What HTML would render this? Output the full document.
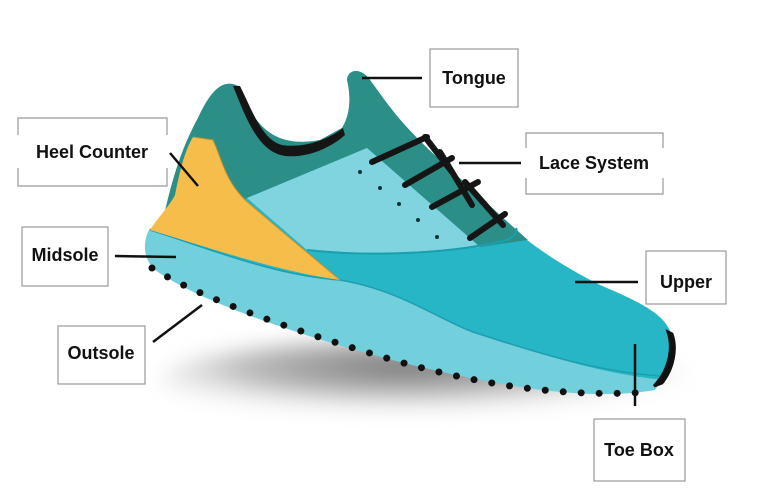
<!DOCTYPE html>
<html><head><meta charset="utf-8"><style>
html,body{margin:0;padding:0;background:#fff;}
svg{display:block}
text{font-family:"Liberation Sans",sans-serif;font-weight:bold;font-size:18px;fill:#111}
</style></head><body>
<svg width="784" height="500" viewBox="0 0 784 500" xmlns="http://www.w3.org/2000/svg">
<defs>
<radialGradient id="sh" cx="0.45" cy="0.35" r="0.6">
<stop offset="0" stop-color="#777"/><stop offset="0.5" stop-color="#bbb"/><stop offset="1" stop-color="#fff" stop-opacity="0"/>
</radialGradient>
<filter id="bl"><feGaussianBlur stdDeviation="10"/></filter>
</defs>
<ellipse cx="430" cy="380" rx="270" ry="42" fill="url(#sh)" filter="url(#bl)"/>
<!-- upper teal -->
<path d="M160,232 C168,200 175,160 198,118 C210,92 222,78 238,86 C252,118 268,150 320,140 L342,128 C352,112 350,92 347,80 C348,68 362,68 370,80 C385,100 398,122 440,160 C480,200 520,245 600,285 C650,306 674,320 672,345 L662,380 C600,374 540,354 473,332 C440,320 400,290 340,280 C270,275 200,245 150,228 Z" fill="#26b6c6"/>
<!-- dark teal collar/tongue/eyestay -->
<path d="M160,232 C168,200 175,160 198,118 C210,92 222,78 238,86 C252,118 268,150 320,140 L342,128 C352,112 350,92 347,80 C348,68 362,68 370,80 C385,100 398,122 440,160 C475,192 505,220 528,240 L480,247 L367,148 L247,198 Z" fill="#2b8f88"/>
<!-- black lining -->
<path d="M233,86 C246,118 258,152 285,156 C305,158 328,150 345,135 L343,128 C325,142 300,148 282,145 C262,140 252,110 240,86 Z" fill="#151515"/>
<!-- light panel -->
<path d="M247,198 L367,148 L480,247 C430,252 350,256 307,250 Z" fill="#7fd4df"/>
<path d="M307,250 C380,258 460,252 507,240 C515,236 518,232 516,228" fill="none" stroke="#1a9fae" stroke-width="2"/>
<!-- sole -->
<path d="M150,228 C200,245 270,275 340,280 C400,290 440,320 473,332 C540,354 600,374 662,380 L655,390 C600,400 520,392 400,362 C300,336 200,302 155,270 C142,258 143,240 150,228 Z" fill="#72d0dc"/>
<path d="M150,230 C200,245 270,275 340,280 C400,290 440,320 473,332 C540,354 600,372 660,376" fill="none" stroke="#1e9fae" stroke-width="1.5"/>
<!-- yellow heel counter -->
<path d="M193,137 L213,140 C222,160 225,180 245,200 C280,230 310,255 340,280 C280,272 210,248 150,230 C160,215 170,205 175,195 C180,170 185,150 193,137 Z" fill="#f7bd4b"/>
<path d="M193,137 L213,140 C222,160 225,180 245,200 C280,230 310,255 340,280" fill="none" stroke="#c8912c" stroke-width="1"/>
<!-- dots -->
<path d="M152,268 C200,298 300,333 400,362 C480,384 560,398 650,392" fill="none" stroke="#111" stroke-width="7" stroke-linecap="round" stroke-dasharray="0 18"/>
<!-- toe cap -->
<path d="M668,332 C674,350 668,372 654,386 L662,383 C674,368 677,348 672,334 Z" fill="#111" stroke="#111" stroke-width="3"/>
<!-- eyelets -->
<g fill="#133"><circle cx="360" cy="172" r="2"/><circle cx="380" cy="188" r="2"/><circle cx="399" cy="204" r="2"/><circle cx="418" cy="220" r="2"/><circle cx="437" cy="237" r="2"/></g>
<!-- laces -->
<g stroke="#151515" stroke-width="6" stroke-linecap="round">
<line x1="372" y1="162" x2="427" y2="137"/>
<line x1="425" y1="137" x2="452" y2="172"/>
<line x1="405" y1="185" x2="452" y2="158"/>
<line x1="440" y1="152" x2="472" y2="205"/>
<line x1="432" y1="207" x2="478" y2="182"/>
<line x1="465" y1="182" x2="503" y2="225"/>
<line x1="470" y1="238" x2="505" y2="214"/>
</g>
<!-- leader lines -->
<g stroke="#111" stroke-width="2.5">
<line x1="362" y1="78" x2="422" y2="78"/>
<line x1="459" y1="163" x2="521" y2="163"/>
<line x1="575" y1="282" x2="638" y2="282"/>
<line x1="635" y1="344" x2="635" y2="406"/>
<line x1="170" y1="153" x2="198" y2="186"/>
<line x1="115" y1="256" x2="176" y2="257"/>
<line x1="153" y1="342" x2="202" y2="305"/>
</g>
<!-- boxes -->
<g fill="none" stroke="#999" stroke-width="1.2">
<rect x="430" y="49" width="88" height="58"/>
<path d="M526,148 V133 H663 V148 M526,178 V194 H663 V178"/>
<rect x="646" y="251" width="80" height="53"/>
<rect x="594" y="419" width="91" height="62"/>
<path d="M18,135 V118 H167 V135 M18,168 V186 H167 V168"/>
<rect x="22" y="227" width="86" height="59"/>
<rect x="58" y="326" width="87" height="58"/>
</g>
<text x="474" y="84" text-anchor="middle">Tongue</text>
<text x="594" y="169" text-anchor="middle">Lace System</text>
<text x="686" y="288" text-anchor="middle">Upper</text>
<text x="639" y="456" text-anchor="middle">Toe Box</text>
<text x="92" y="158" text-anchor="middle">Heel Counter</text>
<text x="65" y="261" text-anchor="middle">Midsole</text>
<text x="101" y="359" text-anchor="middle">Outsole</text>
</svg>
</body></html>
